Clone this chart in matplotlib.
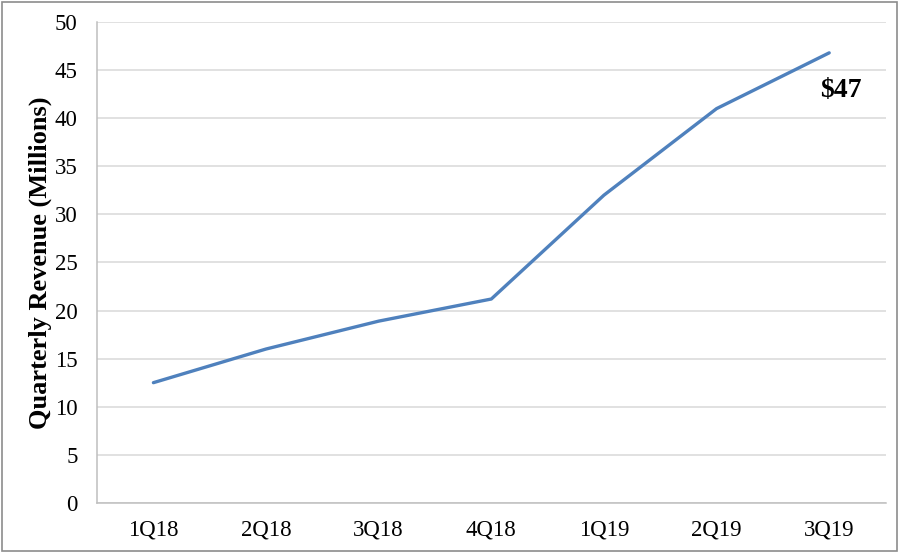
# quarterly revenue line chart
import matplotlib.pyplot as plt
from matplotlib.patches import Rectangle

# data
quarters = ["1Q18", "2Q18", "3Q18", "4Q18", "1Q19", "2Q19", "3Q19"]
revenue = [12.5, 16.0, 18.9, 21.2, 32.0, 41.0, 46.8]
y_ticks = [0, 5, 10, 15, 20, 25, 30, 35, 40, 45, 50]
last_label = r"\$47"

plt.rcParams["font.family"] = ["Liberation Serif", "DejaVu Serif"]

fig = plt.figure(figsize=(8.99, 5.52), dpi=100)
ax = fig.add_axes([0.108, 0.089, 0.877, 0.871])

x = list(range(len(quarters)))
ax.plot(x, revenue, color="#4f81bd", linewidth=2.4, solid_capstyle="round")

ax.set_xlim(-0.5, len(quarters) - 0.5)
ax.set_ylim(0, 50)
ax.set_yticks(y_ticks)
ax.set_xticks(x)
ax.set_xticklabels(quarters)
ax.tick_params(axis="both", length=0, labelsize=16.5)
ax.tick_params(axis="x", pad=12)
ax.tick_params(axis="y", pad=14)

ax.grid(axis="y", color="#d9d9d9", linewidth=1.1)
ax.set_axisbelow(True)
for side in ["top", "right"]:
    ax.spines[side].set_visible(False)
for side in ["left", "bottom"]:
    ax.spines[side].set_color("#bfbfbf")
    ax.spines[side].set_linewidth(1.1)

ax.set_ylabel("Quarterly Revenue (Millions)", fontsize=19, fontweight="bold",
              labelpad=2)

# label next to the last point
ax.text(x[-1] + 0.1, 42.9, last_label, fontsize=20, fontweight="bold",
        ha="center", va="center")

# thin grey frame round the whole picture
fig.patches.append(Rectangle((0.002, 0.002), 0.996, 0.995, transform=fig.transFigure,
                             fill=False, edgecolor="#8c8c8c", linewidth=1.2))

plt.savefig("out.png", dpi=100)
